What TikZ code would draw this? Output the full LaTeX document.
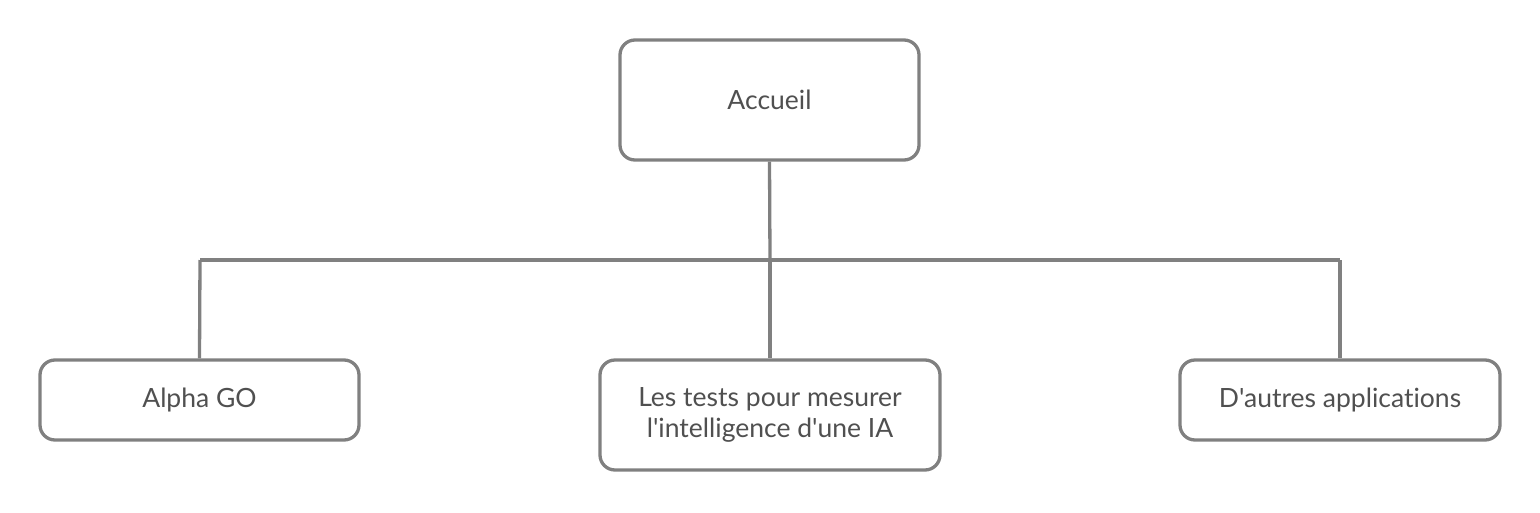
\documentclass[tikz,border=0pt]{standalone}
\usepackage{fontspec}
\setmainfont{Lato}[Ligatures={TeXOff,CommonOff}]
\definecolor{boxline}{HTML}{808080}
\definecolor{boxtext}{HTML}{505050}
\begin{document}
\begin{tikzpicture}[x=1pt,y=-1pt,
  box/.style={draw=boxline, line width=3.3pt, rounded corners=15pt, fill=white,
    text=boxtext, font=\fontsize{26.5}{31}\selectfont, align=center, inner sep=0pt},
  conn/.style={draw=boxline, line width=3.3pt}]
\useasboundingbox (0,0) rectangle (1540,512);
\coordinate (hl) at (200,260);
\coordinate (hr) at (1340,260);
\coordinate (hm) at (770,260);
\node[box, minimum width=299pt, minimum height=120pt] (root) at (769.5,100) {Accueil};
\node[box, minimum width=319pt, minimum height=80pt] (a) at (199.5,400) {Alpha GO};
\node[box, minimum width=340pt, minimum height=110pt] (b) at (770,415) {Les tests pour mesurer\\l'intelligence d'une IA};
\node[box, minimum width=320pt, minimum height=80pt] (c) at (1340,400) {D'autres applications};
\draw[conn] (root.south) -- (hm);
\draw[conn] (hl) -- (hr);
\draw[conn] (hl) -- (a.north);
\draw[conn] (hm) -- (b.north);
\draw[conn] (hr) -- (c.north);
\end{tikzpicture}
\end{document}
